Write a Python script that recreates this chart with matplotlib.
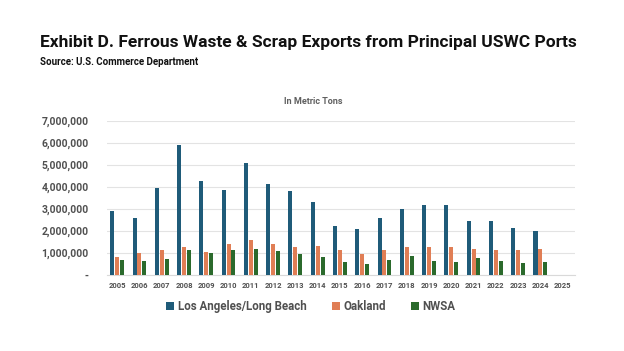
import matplotlib
matplotlib.use("Agg")
import matplotlib.pyplot as plt
import numpy as np
from matplotlib.ticker import FuncFormatter

plt.rcParams["font.family"] = ["Roboto", "DejaVu Sans"]

# data (metric tons)
years = [str(y) for y in range(2005, 2026)]
la_lb = [2910000, 2580000, 3940000, 5910000, 4270000, 3860000, 5090000, 4140000, 3820000, 3300000,
         2230000, 2090000, 2590000, 3000000, 3180000, 3170000, 2470000, 2450000, 2150000, 2000000, 0]
oakland = [830000, 1000000, 1140000, 1260000, 1050000, 1410000, 1590000, 1390000, 1260000, 1320000,
           1140000, 940000, 1120000, 1270000, 1260000, 1290000, 1200000, 1120000, 1150000, 1180000, 0]
nwsa = [700000, 650000, 730000, 1140000, 980000, 1140000, 1180000, 1090000, 940000, 830000,
        580000, 500000, 700000, 850000, 640000, 610000, 760000, 620000, 550000, 610000, 0]

c_la = "#1f5b79"
c_oak = "#e07e55"
c_nw = "#2b6a2c"

fig = plt.figure(figsize=(6.24, 3.51), dpi=100)
ax = fig.add_axes([0.171, 0.2165, 0.75, 0.4385])

x = np.arange(len(years))
w = 0.18
ax.bar(x - 0.22, la_lb, w, color=c_la, label="Los Angeles/Long Beach", zorder=3)
ax.bar(x, oakland, w, color=c_oak, label="Oakland", zorder=3)
ax.bar(x + 0.22, nwsa, w, color=c_nw, label="NWSA", zorder=3)

ax.set_ylim(0, 7000000)
ax.set_xlim(-0.47, 20.54)
ax.set_yticks(np.arange(0, 7000001, 1000000))
ax.yaxis.set_major_formatter(FuncFormatter(lambda v, p: "-" if v == 0 else f"{int(v):,}"))
ax.set_xticks(x)
ax.set_xticklabels(years)
ax.grid(axis="y", color="#e3e3e3", linewidth=0.8, zorder=0)
for s in ["top", "right", "left"]:
    ax.spines[s].set_visible(False)
ax.spines["bottom"].set_color("#d9d9d9")
ax.tick_params(length=0)
for t in ax.get_yticklabels():
    t.set_fontsize(7.5)
    t.set_fontweight("bold")
    t.set_color("#505050")
for t in ax.get_xticklabels():
    t.set_fontsize(5.5)
    t.set_fontweight("bold")
    t.set_color("#505050")
ax.tick_params(axis="y", pad=13)
ax.tick_params(axis="x", pad=5)

# title: shrink to the width it has in the reference
title = fig.text(0.064, 0.865, "Exhibit D. Ferrous Waste & Scrap Exports from Principal USWC Ports",
                 fontsize=13, fontweight="bold", color="#111111")
fig.canvas.draw()
tw = title.get_window_extent().width
title.set_fontsize(13 * 537 / tw)
fig.text(0.064, 0.815, "Source: U.S. Commerce Department",
         fontsize=7, fontweight="bold", color="#111111")
fig.text(0.502, 0.703, "In Metric Tons", ha="center", fontsize=6.5, fontweight="bold", color="#606060")

leg = ax.legend(loc="upper center", bbox_to_anchor=(0.436, -0.095), ncol=3, frameon=False,
                prop={"size": 8.3, "weight": "bold"},
                handlelength=0.7, handleheight=0.7, handletextpad=0.3, columnspacing=2.2)
for t in leg.get_texts():
    t.set_color("#505050")

fig.savefig("out.png", dpi=100)
